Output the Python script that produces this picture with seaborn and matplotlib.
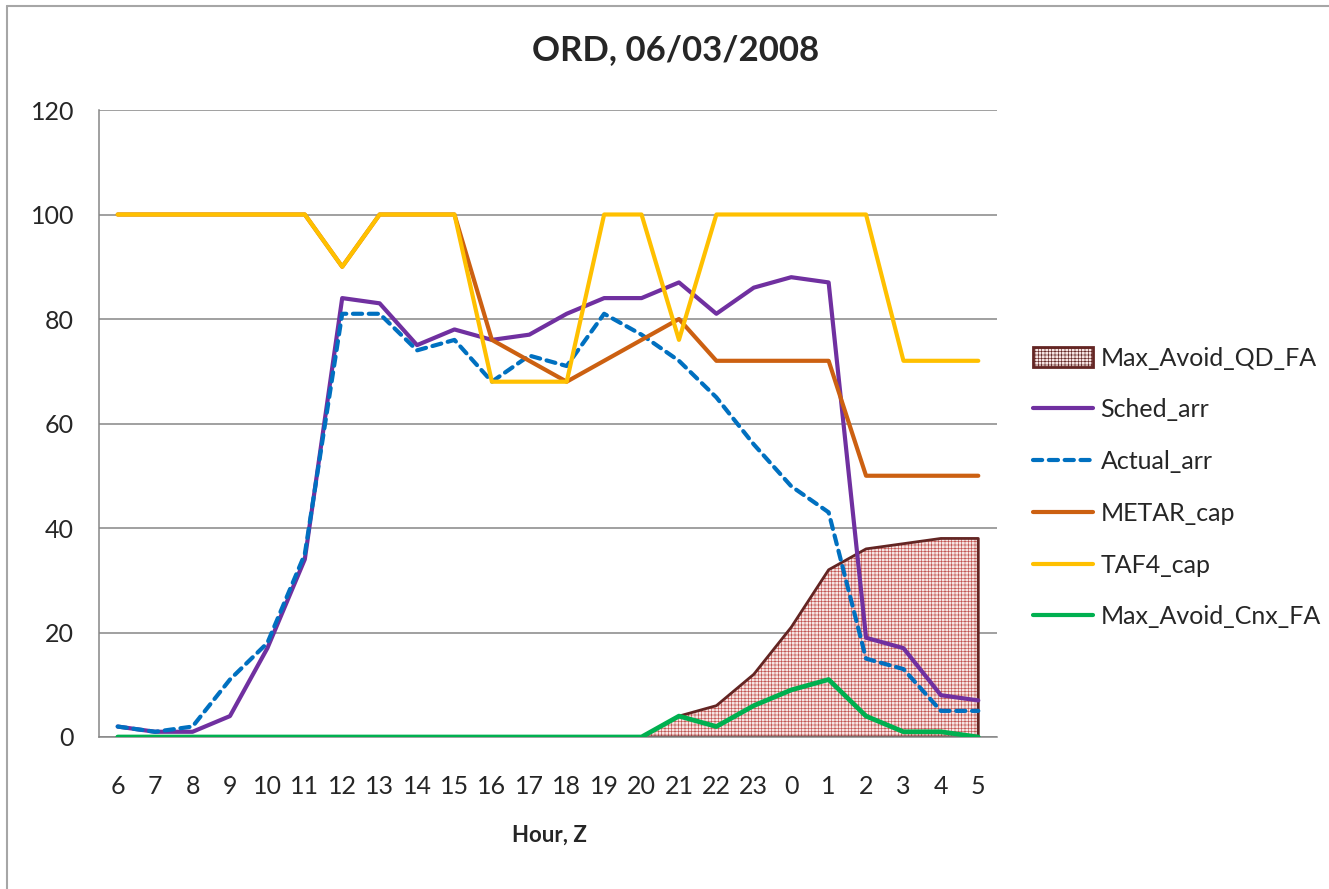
import numpy as np
import pandas as pd
import seaborn as sns
import matplotlib
matplotlib.use("Agg")
import matplotlib.pyplot as plt
from matplotlib.lines import Line2D
from matplotlib.patches import Patch

hours = [6, 7, 8, 9, 10, 11, 12, 13, 14, 15, 16, 17, 18, 19, 20, 21, 22, 23, 0, 1, 2, 3, 4, 5]
sched_arr = [2, 1, 1, 4, 17, 34, 84, 83, 75, 78, 76, 77, 81, 84, 84, 87, 81, 86, 88, 87, 19, 17, 8, 7]
actual_arr = [2, 1, 2, 11, 18, 35, 81, 81, 74, 76, 68, 73, 71, 81, 77, 72, 65, 56, 48, 43, 15, 13, 5, 5]
metar_cap = [100, 100, 100, 100, 100, 100, 90, 100, 100, 100, 76, 72, 68, 72, 76, 80, 72, 72, 72, 72, 50, 50, 50, 50]
taf4_cap = [100, 100, 100, 100, 100, 100, 90, 100, 100, 100, 68, 68, 68, 100, 100, 76, 100, 100, 100, 100, 100, 72, 72, 72]
max_avoid_qd_fa = [0, 0, 0, 0, 0, 0, 0, 0, 0, 0, 0, 0, 0, 0, 0, 4, 6, 12, 21, 32, 36, 37, 38, 38]
max_avoid_cnx_fa = [0, 0, 0, 0, 0, 0, 0, 0, 0, 0, 0, 0, 0, 0, 0, 4, 2, 6, 9, 11, 4, 1, 1, 0]

df = pd.DataFrame({
    "pos": np.arange(len(hours)),
    "hour": hours,
    "Sched_arr": sched_arr,
    "Actual_arr": actual_arr,
    "METAR_cap": metar_cap,
    "TAF4_cap": taf4_cap,
    "Max_Avoid_QD_FA": max_avoid_qd_fa,
    "Max_Avoid_Cnx_FA": max_avoid_cnx_fa,
})

sns.set_style("white")
plt.rcParams["font.family"] = ["Lato", "DejaVu Sans"]
plt.rcParams["hatch.linewidth"] = 0.45

colors = {
    "Max_Avoid_QD_FA": "#632523",
    "Sched_arr": "#7030a0",
    "Actual_arr": "#0070c0",
    "METAR_cap": "#cc6011",
    "TAF4_cap": "#ffc000",
    "Max_Avoid_Cnx_FA": "#00b050",
}
hatch_col = "#c0504d"
fill_col = "#f6e4e3"

W, H = 1329, 889
fig = plt.figure(figsize=(W / 100, H / 100), dpi=100)
ax = fig.add_axes([99 / W, 1 - 737 / H, (997 - 99) / W, (737 - 110) / H])

# area series: hatched fill plus dark outline
ax.fill_between(df["pos"], 0, df["Max_Avoid_QD_FA"], facecolor=fill_col,
                edgecolor=hatch_col, hatch="+++++", linewidth=0, zorder=2)
ax.fill_between(df["pos"], 0, df["Max_Avoid_QD_FA"], facecolor="none",
                edgecolor=colors["Max_Avoid_QD_FA"], linewidth=2, zorder=2)

lw = 3
sns.lineplot(data=df, x="pos", y="Sched_arr", color=colors["Sched_arr"], lw=lw, ax=ax, zorder=3)
sns.lineplot(data=df, x="pos", y="Actual_arr", color=colors["Actual_arr"], lw=lw, ax=ax, zorder=3,
             dashes=False).lines[-1].set(dashes=(2.2, 1.6), dash_capstyle="round")
sns.lineplot(data=df, x="pos", y="METAR_cap", color=colors["METAR_cap"], lw=lw, ax=ax, zorder=3)
sns.lineplot(data=df, x="pos", y="TAF4_cap", color=colors["TAF4_cap"], lw=lw, ax=ax, zorder=3)
sns.lineplot(data=df, x="pos", y="Max_Avoid_Cnx_FA", color=colors["Max_Avoid_Cnx_FA"], lw=3.4, ax=ax, zorder=3)

ax.set_xlim(-0.5, len(hours) - 0.5)
ax.set_ylim(0, 120)
ax.set_yticks(range(0, 121, 20))
ax.set_xticks(np.arange(-0.5, len(hours), 1.0))
ax.set_xticklabels([])
ax.set_xticks(df["pos"], minor=True)
ax.set_xticklabels([str(h) for h in hours], minor=True)
ax.tick_params(axis="x", which="major", length=4.5, width=1, color="#868686", direction="out")
ax.tick_params(axis="x", which="minor", length=0, pad=27, labelsize=18)
ax.tick_params(axis="y", length=5, width=1, color="#868686", direction="out", pad=13, labelsize=18)

ax.yaxis.grid(True, color="#868686", lw=1.1)
ax.xaxis.grid(False)
ax.set_axisbelow(True)
for s in ["top", "right"]:
    ax.spines[s].set_visible(False)
for s in ["left", "bottom"]:
    ax.spines[s].set_color("#868686")
    ax.spines[s].set_linewidth(1.1)
ax.set_xlabel("")
ax.set_ylabel("")

fig.text(676 / W, 1 - 50 / H, "ORD, 06/03/2008", ha="center", va="center",
         fontsize=25, fontweight="bold")
fig.text(549 / W, 1 - 835 / H, "Hour, Z", ha="center", va="center",
         fontsize=16, fontweight="bold")

handles = [
    Patch(facecolor=fill_col, edgecolor=colors["Max_Avoid_QD_FA"], hatch="+++++", linewidth=2),
    Line2D([], [], color=colors["Sched_arr"], lw=lw),
    Line2D([], [], color=colors["Actual_arr"], lw=lw, dashes=(2.2, 1.6), dash_capstyle="round"),
    Line2D([], [], color=colors["METAR_cap"], lw=lw),
    Line2D([], [], color=colors["TAF4_cap"], lw=lw),
    Line2D([], [], color=colors["Max_Avoid_Cnx_FA"], lw=lw),
]
labels = ["Max_Avoid_QD_FA", "Sched_arr", "Actual_arr", "METAR_cap", "TAF4_cap", "Max_Avoid_Cnx_FA"]
fig.legend(handles, labels, loc="center left", bbox_to_anchor=(1033 / W, 1 - 487.5 / H),
           bbox_transform=fig.transFigure, frameon=False, fontsize=18, handlelength=2.4,
           handleheight=0.8, handletextpad=0.3, labelspacing=1.15, borderpad=0, borderaxespad=0)

# chart border (cropped frame)
fig.add_artist(Line2D([7 / W, 7 / W], [0, 1 - 6 / H], transform=fig.transFigure, color="#a6a6a6", lw=1.5))
fig.add_artist(Line2D([7 / W, 1], [1 - 6 / H, 1 - 6 / H], transform=fig.transFigure, color="#a6a6a6", lw=1.5))

fig.savefig("out.png", dpi=100)
